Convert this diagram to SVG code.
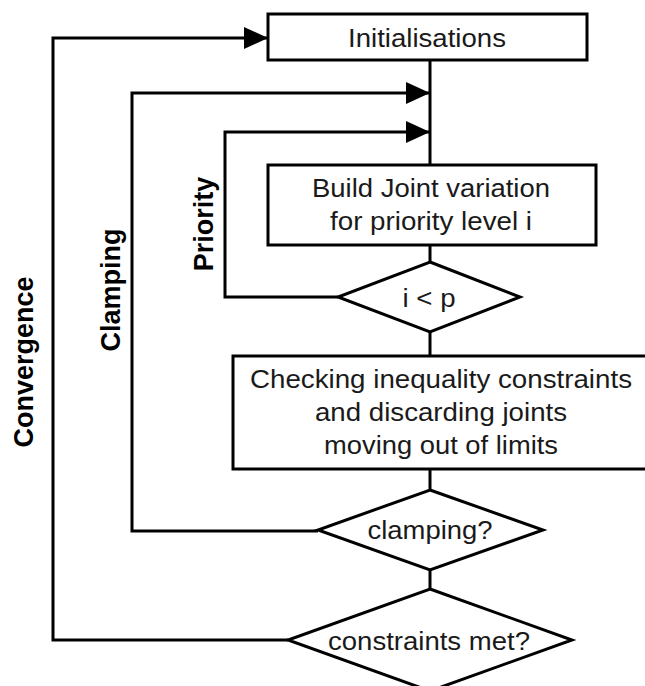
<svg xmlns="http://www.w3.org/2000/svg" width="645" height="686" viewBox="0 0 645 686">
  <style>
    .shape { fill: #ffffff; stroke: #000000; stroke-width: 3; }
    .wire { fill: none; stroke: #000000; stroke-width: 3; }
    .txt { font-family: "Liberation Sans", Arial, sans-serif; font-size: 26.5px; fill: #1a1a1a; text-anchor: middle; }
    .tag { font-family: "Liberation Sans", Arial, sans-serif; font-size: 27px; font-weight: bold; fill: #000000; text-anchor: middle; }
  </style>
  <defs>
    <marker id="arrow" markerUnits="userSpaceOnUse" markerWidth="24" markerHeight="22" refX="24" refY="11" orient="auto">
      <path d="M0,0 L24,11 L0,22 z" fill="#000000"/>
    </marker>
  </defs>
  <rect width="645" height="686" fill="#ffffff"/>

  <!-- flow lines and feedback loops -->
  <g id="connectors">
    <path class="wire" d="M430,60 V165"/>
    <path class="wire" d="M430,245 V262"/>
    <path class="wire" d="M430,332 V356"/>
    <path class="wire" d="M430,469 V490"/>
    <path class="wire" d="M430,570 V589"/>
    <path class="wire" d="M338,297 H225 V132 H430" marker-end="url(#arrow)"/>
    <path class="wire" d="M318,531 H132 V93 H430" marker-end="url(#arrow)"/>
    <path class="wire" d="M288,640 H53 V38 H268" marker-end="url(#arrow)"/>
    <text class="tag" transform="translate(213,224) rotate(-90)">Priority</text>
    <text class="tag" transform="translate(120,290) rotate(-90)">Clamping</text>
    <text class="tag" transform="translate(33,362) rotate(-90)">Convergence</text>
  </g>

  <g id="init">
    <rect class="shape" x="268" y="14" width="319" height="46"/>
    <text class="txt" x="427" y="47" textLength="158" lengthAdjust="spacingAndGlyphs">Initialisations</text>
  </g>

  <g id="build">
    <rect class="shape" x="268" y="165" width="328" height="80"/>
    <text class="txt" x="431" y="197" textLength="238" lengthAdjust="spacingAndGlyphs">Build Joint variation</text>
    <text class="txt" x="431" y="230" textLength="202" lengthAdjust="spacingAndGlyphs">for priority level i</text>
  </g>

  <g id="priority-test">
    <polygon class="shape" points="430,262 520,297 430,332 338,297"/>
    <text class="txt" x="429" y="307" textLength="53" lengthAdjust="spacingAndGlyphs">i &lt; p</text>
  </g>

  <g id="check">
    <rect class="shape" x="233" y="356" width="420" height="113"/>
    <text class="txt" x="441" y="388" textLength="382" lengthAdjust="spacingAndGlyphs">Checking inequality constraints</text>
    <text class="txt" x="441" y="421" textLength="252" lengthAdjust="spacingAndGlyphs">and discarding joints</text>
    <text class="txt" x="441" y="454" textLength="234" lengthAdjust="spacingAndGlyphs">moving out of limits</text>
  </g>

  <g id="clamping-test">
    <polygon class="shape" points="430,490 543,530 430,570 318,530"/>
    <text class="txt" x="430" y="539" textLength="125" lengthAdjust="spacingAndGlyphs">clamping?</text>
  </g>

  <g id="constraints-test">
    <polygon class="shape" points="430,589 572,640 430,691 288,640"/>
    <text class="txt" x="429" y="650" textLength="202" lengthAdjust="spacingAndGlyphs">constraints met?</text>
  </g>
</svg>
